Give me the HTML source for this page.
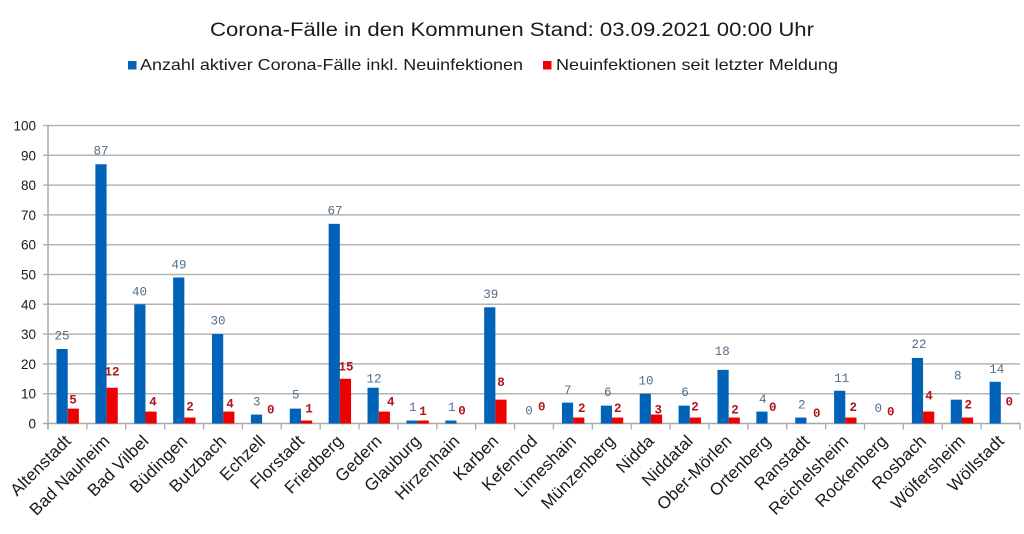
<!DOCTYPE html>
<html>
<head>
<meta charset="utf-8">
<style>
html,body{margin:0;padding:0;background:#fff;}
svg{display:block;}
.cat{font-family:"Liberation Sans",sans-serif;font-size:17px;letter-spacing:0.2px;fill:#1a1a1a;}
.yt{font-family:"Liberation Sans",sans-serif;font-size:13.5px;fill:#1a1a1a;}
.bl{font-family:"Liberation Mono",monospace;font-size:12.5px;fill:#4f6d8a;}
.rl{font-family:"Liberation Mono",monospace;font-size:12.5px;font-weight:bold;fill:#b3131b;}
</style>
</head>
<body>
<svg width="1024" height="534" viewBox="0 0 1024 534" xmlns="http://www.w3.org/2000/svg">
<rect width="1024" height="534" fill="#fff"/>
<text x="210" y="36" font-family="Liberation Sans, sans-serif" font-size="19" fill="#1a1a1a" textLength="604" lengthAdjust="spacingAndGlyphs">Corona-Fälle in den Kommunen Stand: 03.09.2021 00:00 Uhr</text>
<rect x="128" y="61" width="8.5" height="8.5" fill="#0063b8"/>
<text x="140" y="70" font-family="Liberation Sans, sans-serif" font-size="16" fill="#1a1a1a" textLength="383" lengthAdjust="spacingAndGlyphs">Anzahl aktiver Corona-Fälle inkl. Neuinfektionen</text>
<rect x="543" y="61" width="8.5" height="8.5" fill="#ee0000"/>
<text x="556" y="70" font-family="Liberation Sans, sans-serif" font-size="16" fill="#1a1a1a" textLength="282" lengthAdjust="spacingAndGlyphs">Neuinfektionen seit letzter Meldung</text>
<g id="grid" stroke="#b4b4b4" stroke-width="1.5"></g>
<g id="axes"></g>
<g id="bars"></g>
<g id="labels"></g>
</svg>
<script>
(function(){
var NS="http://www.w3.org/2000/svg";
function el(tag,attrs,parent,txt){var e=document.createElementNS(NS,tag);for(var k in attrs)e.setAttribute(k,attrs[k]);if(txt!==undefined)e.textContent=txt;parent.appendChild(e);return e;}
var grid=document.getElementById('grid'),axes=document.getElementById('axes'),bars=document.getElementById('bars'),labels=document.getElementById('labels');
function Y(v){return 423.5-v*2.98;}
for(var v=10;v<=100;v+=10){el('line',{x1:43,x2:1020,y1:Y(v),y2:Y(v)},grid);}
for(var v=0;v<=100;v+=10){el('text',{x:36,y:Y(v)+5,'text-anchor':'end','class':'yt'},labels,String(v));}
el('line',{x1:48,x2:48,y1:125.5,y2:429,stroke:'#a8a8a8','stroke-width':1.5},axes);
el('line',{x1:43,x2:1020.5,y1:423.5,y2:423.5,stroke:'#a8a8a8','stroke-width':1.5},axes);
var w=972/25;
for(var i=0;i<=25;i++){var x=48+i*w;el('line',{x1:x,x2:x,y1:423.5,y2:429.5,stroke:'#a8a8a8','stroke-width':1.3},axes);}
var d=[
["Altenstadt",25,5,62,335,73,399],
["Bad Nauheim",87,12,101,150,112,371],
["Bad Vilbel",40,4,139.5,291,153,401],
["Büdingen",49,2,179,264,190,406],
["Butzbach",30,4,218,320,230,403],
["Echzell",3,0,256.7,401,270.7,409],
["Florstadt",5,1,295.7,394,309,408],
["Friedberg",67,15,335,210,346,366],
["Gedern",12,4,374,378,390.7,401],
["Glauburg",1,1,412.7,406.7,423,410.7],
["Hirzenhain",1,0,451.7,406.7,462,410],
["Karben",39,8,490.7,293.3,501,381.7],
["Kefenrod",0,0,529,410,541.7,406],
["Limeshain",7,2,567.7,389.3,581.7,407.7],
["Münzenberg",6,2,607.7,391.7,617.7,407.7],
["Nidda",10,3,646,380,658.3,409],
["Niddatal",6,2,685,391.7,695,406],
["Ober-Mörlen",18,2,722.3,350.7,735,409],
["Ortenberg",4,0,762.7,398.3,772.7,406.7],
["Ranstadt",2,0,801.7,404,816.7,412.7],
["Reichelsheim",11,2,841.7,377.3,853.3,406.7],
["Rockenberg",0,0,878.3,407.3,890.7,411],
["Rosbach",22,4,919,343.3,929,395],
["Wölfersheim",8,2,957.7,375,968.3,404],
["Wöllstadt",14,0,996.7,368.3,1009.3,401]
];
for(var i=0;i<d.length;i++){
 var r=d[i],s=48+i*w;
 if(r[1]>0)el('rect',{x:s+8.5,y:Y(r[1]),width:11.2,height:423.5-Y(r[1]),fill:'#0063b8'},bars);
 if(r[2]>0)el('rect',{x:s+19.7,y:Y(r[2]),width:11.2,height:423.5-Y(r[2]),fill:'#ee0000'},bars);
 el('text',{x:r[3],y:r[4]+4.5,'text-anchor':'middle','class':'bl'},labels,String(r[1]));
 el('text',{x:r[5],y:r[6]+4.5,'text-anchor':'middle','class':'rl'},labels,String(r[2]));
 var cx=s+w/2+4.5,cy=442;
 el('text',{x:cx,y:cy,'text-anchor':'end','class':'cat',transform:'rotate(-45 '+cx+' '+cy+')'},labels,r[0]);
}
})();
</script>
</body>
</html>
